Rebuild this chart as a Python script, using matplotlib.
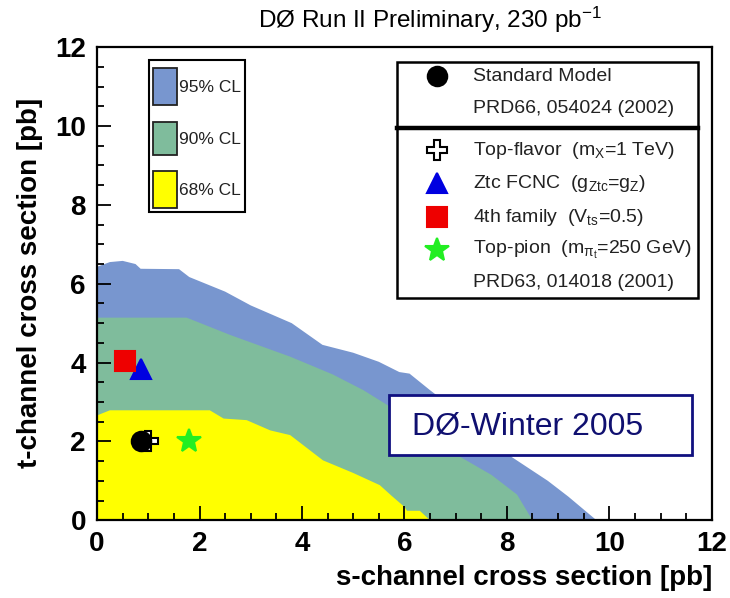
import matplotlib
matplotlib.use("Agg")
import matplotlib.pyplot as plt
from matplotlib.patches import Rectangle, Polygon
from matplotlib.ticker import MultipleLocator

plt.rcParams['font.family'] = ['Liberation Sans', 'DejaVu Sans']
plt.rcParams['mathtext.fontset'] = 'custom'
plt.rcParams['mathtext.rm'] = 'Liberation Sans'
plt.rcParams['mathtext.it'] = 'Liberation Sans'
plt.rcParams['mathtext.bf'] = 'Liberation Sans:bold'

# ---- data ----
cl95_s = [0, 0.25, 0.5, 0.75, 0.85, 1.6, 1.8, 2.5, 3.0, 3.8, 4.4, 5.0, 5.5, 5.9, 6.1, 6.5, 7.2, 8.1, 8.8, 9.2, 9.75]
cl95_t = [6.43, 6.55, 6.58, 6.5, 6.38, 6.37, 6.17, 5.8, 5.45, 5.0, 4.45, 4.25, 4.02, 3.76, 3.72, 3.3, 2.6, 1.6, 1.0, 0.6, 0.0]
cl90_s = [0, 1.75, 2.6, 3.77, 4.6, 5.2, 5.72, 6.4, 7.1, 7.7, 8.2, 8.5]
cl90_t = [5.14, 5.14, 4.7, 4.15, 3.7, 3.3, 2.88, 2.2, 1.6, 1.15, 0.65, 0.0]
cl68_s = [0, 0.25, 2.2, 2.47, 2.92, 3.38, 3.77, 4.41, 5.0, 5.52, 5.75, 6.0, 6.05, 6.3, 6.5]
cl68_t = [2.66, 2.79, 2.79, 2.58, 2.54, 2.28, 2.16, 1.52, 1.2, 0.89, 0.62, 0.34, 0.24, 0.24, 0.0]

cl_labels = ['95% CL', '90% CL', '68% CL']
cl_colors = ['#7896CF', '#7FBC9C', '#FFFF00']

model_names = ['Standard Model', 'Top-flavor', 'Ztc FCNC', '4th family', 'Top-pion']
model_s = [0.85, 1.0, 0.85, 0.55, 1.8]
model_t = [2.0, 2.0, 3.85, 4.05, 2.0]
model_markers = ['o', 'P', '^', 's', '*']
model_face = ['black', 'white', '#0000E0', '#EE0000', '#22EE22']
model_edge = ['black', 'black', '#0000E0', '#EE0000', '#22EE22']
model_size = [14, 14, 14, 14, 18]

legend_lines = [
    ('marker', 0, 'Standard Model'),
    ('text', None, 'PRD66, 054024 (2002)'),
    ('marker', 1, r'Top-flavor  (m$_{X}$=1 TeV)'),
    ('marker', 2, r'Ztc FCNC  (g$_{Ztc}$=g$_{Z}$)'),
    ('marker', 3, r'4th family  (V$_{ts}$=0.5)'),
    ('marker', 4, r'Top-pion  (m$_{\pi_t}$=250 GeV)'),
    ('text', None, 'PRD63, 014018 (2001)'),
]

title = r'DØ Run II Preliminary, 230 pb$^{-1}$'
xlabel = 's-channel cross section [pb]'
ylabel = 't-channel cross section [pb]'
xticks = [0, 2, 4, 6, 8, 10, 12]
yticks = [0, 2, 4, 6, 8, 10, 12]

# ---- figure ----
fig = plt.figure(figsize=(7.30, 5.98), dpi=100)
ax = fig.add_axes([0.133, 0.130, 0.842, 0.791])
ax.set_xlim(0, 12)
ax.set_ylim(0, 12)

for s, t, c in [(cl95_s, cl95_t, cl_colors[0]), (cl90_s, cl90_t, cl_colors[1]), (cl68_s, cl68_t, cl_colors[2])]:
    pts = [(0, 0)] + list(zip(s, t))
    ax.add_patch(Polygon(pts, closed=True, facecolor=c, edgecolor='none', zorder=1))

for i in range(len(model_names)):
    ax.plot(model_s[i], model_t[i], linestyle='none', marker=model_markers[i],
            markersize=model_size[i], markerfacecolor=model_face[i],
            markeredgecolor=model_edge[i], markeredgewidth=1.5, zorder=5 - (i == 1) * 1)

for sp in ax.spines.values():
    sp.set_linewidth(1.6)
ax.set_xticks(xticks)
ax.set_yticks(yticks)
ax.xaxis.set_minor_locator(MultipleLocator(0.5))
ax.yaxis.set_minor_locator(MultipleLocator(0.5))
ax.tick_params(which='both', direction='in', top=False, right=False, width=1.3)
ax.tick_params(which='major', length=10, pad=8)
ax.tick_params(which='minor', length=5)
for lab in ax.get_xticklabels() + ax.get_yticklabels():
    lab.set_fontsize(20)
    lab.set_fontweight('bold')

fig.text(0.589, 0.966, title, ha='center', va='center', fontsize=17.5)
fig.text(0.041, 0.527, ylabel, rotation=90, ha='center', va='center', fontsize=20, fontweight='bold')
fig.text(0.975, 0.033, xlabel, ha='right', va='center', fontsize=20, fontweight='bold')

T = ax.transAxes
# CL legend box
ax.add_patch(Rectangle((0.0846, 0.6512), 0.1561, 0.3213, transform=T, facecolor='white',
                       edgecolor='black', linewidth=1.5, zorder=6))
sw_y = [(0.8774, 0.9556), (0.7717, 0.8414), (0.6596, 0.7378)]
txt_y = [0.9154, 0.8055, 0.6977]
for i in range(3):
    y0, y1 = sw_y[i]
    ax.add_patch(Rectangle((0.0911, y0), 0.039, y1 - y0, transform=T, facecolor=cl_colors[i],
                           edgecolor='#222222', linewidth=1.3, zorder=7))
    ax.text(0.1335, txt_y[i], cl_labels[i], transform=T, ha='left', va='center', fontsize=12.5,
            color='#222222', zorder=7)

# model legend box
ax.add_patch(Rectangle((0.4878, 0.4693), 0.4894, 0.499, transform=T, facecolor='white',
                       edgecolor='black', linewidth=1.8, zorder=6))
ax.plot([0.4878, 0.9772], [0.8288, 0.8288], transform=T, color='black', linewidth=3.2, zorder=7)
row_y = [0.9387, 0.8710, 0.7822, 0.7125, 0.6406, 0.5708, 0.5032]
for (kind, idx, label), y in zip(legend_lines, row_y):
    if kind == 'marker':
        ax.plot([0.5528], [y], transform=T, linestyle='none', marker=model_markers[idx],
                markersize=model_size[idx], markerfacecolor=model_face[idx],
                markeredgecolor=model_edge[idx], markeredgewidth=1.5, zorder=8, clip_on=False)
    ax.text(0.6114, y, label, transform=T, ha='left', va='center', fontsize=14,
            color='#222222', zorder=8)

# DØ-Winter box
ax.add_patch(Rectangle((0.4748, 0.1374), 0.4927, 0.1269, transform=T, facecolor='white',
                       edgecolor='#101080', linewidth=2.0, zorder=6))
ax.text(0.5122, 0.1987, 'DØ-Winter 2005', transform=T, ha='left', va='center', fontsize=23,
        color='#101070', zorder=7)

fig.savefig('out.png', dpi=100, facecolor='white')
